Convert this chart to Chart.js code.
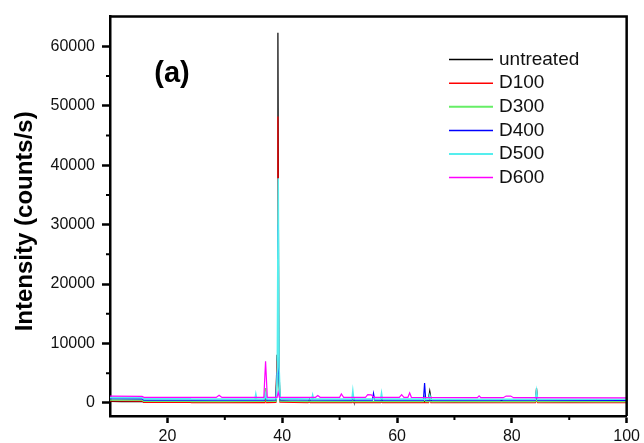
<!DOCTYPE html>
<html>
<head>
<meta charset="utf-8">
<title>XRD (a)</title>
<script src="https://cdn.jsdelivr.net/npm/chart.js@4"></script>
<style>
  html, body { margin: 0; padding: 0; background: #fff; }
  #wrap { width: 644px; height: 443px; position: relative; }
</style>
</head>
<body>
<div id="wrap"><canvas id="xrdChart"></canvas></div>
<script>
/* axis ranges and ticks */
const xRange = [10, 100];
const yRange = [-2200, 65000];
const xTicks = [20, 40, 60, 80, 100];
const yTicks = [0, 10000, 20000, 30000, 40000, 50000, 60000];
const xMinor = [30, 50, 70, 90];
const yMinor = [5000, 15000, 25000, 35000, 45000, 55000];
const yTitle = 'Intensity (counts/s)';
const panelLabel = '(a)';

/* series, [2theta, intensity] */
const seriesNames = ['untreated', 'D100', 'D300', 'D400', 'D500', 'D600'];

const untreated = [
  [10, 260], [12, 230], [15.6, 250], [15.9, 120], [20, 150], [23.9, 160], [24.1, 260],
  [28, 230], [32, 220], [36, 230], [36.95, 240], [37.1, 500], [37.3, 240], [38.9, 300],
  [39.1, 8000], [39.25, 62300], [39.4, 8000], [39.6, 350], [42, 200], [44.6, 250],
  [44.75, 650], [44.9, 230], [48, 200], [52.2, 230], [52.35, 800], [52.5, 230], [56, 200],
  [57.2, 220], [57.35, 700], [57.5, 220], [62, 210], [65.4, 230], [65.7, 2000], [66, 230],
  [70, 190], [78, 210], [78.2, 450], [78.4, 210], [84.1, 230], [84.3, 2450], [84.5, 230],
  [90, 190], [95, 200], [100, 200]
];
const d100 = [
  [10, 320], [15.6, 300], [15.9, 80], [24, 90], [24.2, 60], [30, 50], [37, 60], [37.15, 900],
  [37.3, 60], [38.9, 100], [39.1, 7000], [39.25, 48200], [39.4, 7000], [39.6, 120],
  [44.5, 50], [44.7, 200], [44.9, 50], [52.15, 50], [52.3, 250], [52.45, 50], [57.15, 50],
  [57.3, 220], [57.45, 50], [65.5, 50], [65.7, 700], [65.9, 50], [80, 30], [84.1, 30],
  [84.3, 500], [84.5, 30], [100, 30]
];
const d300 = [
  [10, 500], [15.6, 480], [15.9, 280], [24, 280], [24.2, 260], [30, 250], [36.9, 280],
  [37.1, 2500], [37.3, 280], [38.9, 300], [39.1, 4000], [39.25, 22000], [39.4, 4000],
  [39.6, 320], [44.5, 260], [44.7, 400], [44.9, 260], [52.15, 260], [52.3, 500], [52.45, 260],
  [57.15, 250], [57.3, 450], [57.45, 250], [64.6, 250], [64.8, 900], [65.0, 250], [65.5, 250],
  [65.7, 600], [65.9, 250], [84.1, 240], [84.3, 700], [84.5, 240], [100, 230]
];
const d400 = [
  [10, 700], [15.6, 690], [15.9, 480], [24, 480], [24.2, 470], [30, 460], [36.9, 470],
  [37.1, 1200], [37.3, 470], [38.9, 500], [39.1, 5000], [39.25, 30000], [39.4, 5000],
  [39.6, 520], [52.15, 460], [52.3, 900], [52.45, 460], [55.7, 460], [55.9, 1600], [56.1, 460],
  [64.6, 470], [64.8, 3350], [65, 470], [84.1, 450], [84.3, 1000], [84.5, 450], [100, 440]
];
const d500 = [
  [10, 900], [15.6, 880], [15.9, 680], [24, 680], [24.2, 660], [30, 650], [35.25, 650],
  [35.4, 1450], [35.55, 650], [36.9, 660], [37.1, 1500], [37.3, 660], [39.0, 700],
  [39.15, 6000], [39.3, 37800], [39.45, 6000], [39.65, 720], [45.15, 650], [45.3, 1300],
  [45.45, 650], [52.15, 650], [52.3, 1950], [52.45, 650], [57.15, 650], [57.3, 1600],
  [57.45, 650], [65.5, 640], [65.7, 1300], [65.9, 640], [84.1, 630], [84.3, 2000],
  [84.5, 630], [100, 620]
];
const d600 = [
  [10, 1150], [15.6, 1100], [15.9, 950], [24, 950], [24.2, 930], [28.5, 930], [29, 1300],
  [29.5, 920], [36.8, 950], [37.1, 7000], [37.4, 950], [39.1, 950], [39.3, 1800], [39.5, 950],
  [45.8, 950], [46.2, 1250], [46.6, 950], [50, 950], [50.3, 1500], [50.7, 950], [54.5, 950],
  [54.9, 1400], [55.5, 1350], [56, 950], [60.4, 950], [60.8, 1400], [61.2, 950], [61.9, 950],
  [62.2, 1700], [62.5, 950], [74, 880], [74.3, 1200], [74.6, 880], [78.5, 880], [79, 1150],
  [79.8, 1150], [80.3, 880], [100, 860]
];

(function () {
  const FONT = '"Liberation Sans", Arial, sans-serif';
  const colors = ['#000000', '#ff0000', '#66ee66', '#0000ff', '#55eeee', '#ff00ff'];
  const widths = [1.2, 1.2, 1.6, 1.2, 1.6, 1.2];
  const seriesData = [untreated, d100, d300, d400, d500, d600];

  function $(id) { return document.getElementById(id); }

  // frame, minor ticks, axis title, "(a)" and the legend inside the plot
  const decor = {
    id: 'decor',
    afterDraw(chart) {
      const ctx = chart.ctx;
      const a = chart.chartArea;
      const xs = chart.scales.x, ys = chart.scales.y;
      ctx.save();
      ctx.strokeStyle = '#000';
      ctx.lineWidth = 2.5;
      ctx.beginPath();
      ctx.moveTo(a.left, a.top); ctx.lineTo(a.right, a.top); ctx.lineTo(a.right, a.bottom);
      ctx.stroke();

      ctx.lineWidth = 2;
      ctx.beginPath();
      xMinor.forEach(v => {
        const px = xs.getPixelForValue(v);
        ctx.moveTo(px, a.bottom); ctx.lineTo(px, a.bottom + 4);
      });
      yMinor.forEach(v => {
        const py = ys.getPixelForValue(v);
        ctx.moveTo(a.left, py); ctx.lineTo(a.left - 4, py);
      });
      ctx.stroke();

      ctx.fillStyle = '#000';
      ctx.textAlign = 'center';
      ctx.textBaseline = 'middle';

      // y title, a little below the plot centre as in the original
      ctx.save();
      ctx.translate(25, (a.top + a.bottom) / 2 + 5);
      ctx.rotate(-Math.PI / 2);
      ctx.font = 'bold 24px ' + FONT;
      ctx.fillText(yTitle, 0, 0);
      ctx.restore();

      ctx.font = 'bold 29px ' + FONT;
      ctx.fillText(panelLabel, a.left + 62, a.top + 57);

      ctx.font = '19px ' + FONT;
      ctx.textAlign = 'left';
      chart.data.datasets.forEach((ds, i) => {
        const y = a.top + 43 + i * 23.6;
        ctx.strokeStyle = ds.borderColor;
        ctx.lineWidth = ds.borderWidth + 0.3;
        ctx.beginPath();
        ctx.moveTo(a.left + 339, y); ctx.lineTo(a.left + 383, y);
        ctx.stroke();
        ctx.fillStyle = '#111';
        ctx.fillText(ds.label, a.left + 389, y);
      });
      ctx.restore();
    }
  };

  function init() {
    const datasets = seriesNames.map((name, i) => ({
      label: name,
      data: seriesData[i].map(p => ({ x: p[0], y: p[1] })),
      borderColor: colors[i],
      borderWidth: widths[i],
      pointRadius: 0,
      fill: false,
      tension: 0,
      order: seriesNames.length - i
    }));

    new Chart($('xrdChart'), {
      type: 'line',
      data: { datasets },
      options: {
        responsive: true,
        maintainAspectRatio: false,
        animation: false,
        layout: { padding: { left: 0, top: 14, right: 16, bottom: 0 } },
        plugins: { legend: { display: false }, tooltip: { enabled: false } },
        scales: {
          x: {
            type: 'linear',
            min: xRange[0],
            max: xRange[1],
            afterBuildTicks: s => { s.ticks = xTicks.map(v => ({ value: v })); },
            afterFit: s => { s.height = 27; },
            grid: { drawOnChartArea: false, tickLength: 7, tickWidth: 2.5, tickColor: '#000' },
            border: { display: true, width: 2.5, color: '#000' },
            ticks: { color: '#111', padding: 4, maxRotation: 0, font: { family: FONT, size: 16 } }
          },
          y: {
            type: 'linear',
            min: yRange[0],
            max: yRange[1],
            afterBuildTicks: s => { s.ticks = yTicks.map(v => ({ value: v })); },
            afterFit: s => { s.width = 110; },
            grid: { drawOnChartArea: false, tickLength: 8, tickWidth: 2.5, tickColor: '#000' },
            border: { display: true, width: 2.5, color: '#000' },
            ticks: { color: '#111', padding: 7, font: { family: FONT, size: 16 }, callback: v => String(v) }
          }
        }
      },
      plugins: [decor]
    });
  }

  document.addEventListener('DOMContentLoaded', init);
})();
</script>
</body>
</html>
